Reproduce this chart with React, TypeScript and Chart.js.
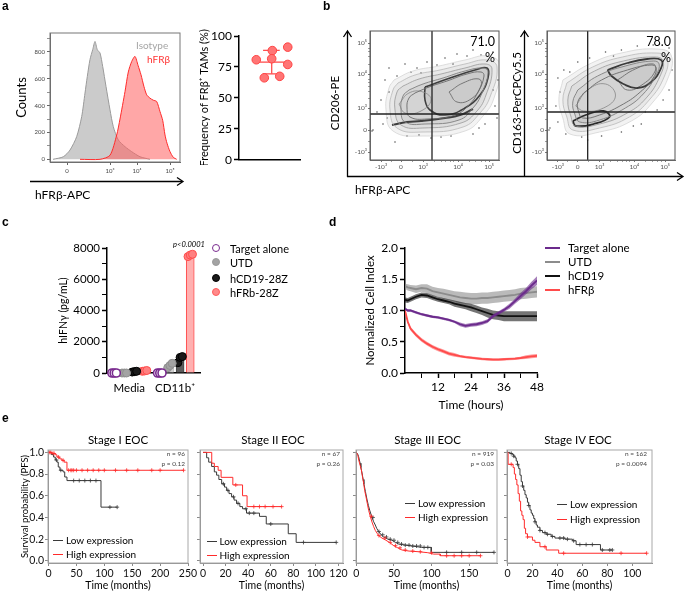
import React, { useEffect, useRef } from 'react';
import { Chart, registerables } from 'chart.js';

const FONT = 'Lato, "Liberation Sans", sans-serif';
const BOLD_FONT = '"Liberation Sans", Arial, sans-serif';

// ---------------- Panel a : histogram ----------------
const HIST_ISO_X = [3, 13.3, 20, 26.7, 31.7, 35, 37.3, 40, 42.7, 45, 47.3, 50, 52.7, 56, 60, 63.3, 68.3, 75, 81.7, 90, 100];
const HIST_ISO_Y = [0, 19, 69, 169, 318, 493, 616, 743, 816, 877, 816, 791, 691, 542, 368, 243, 144, 94, 57, 19, 0];
const HIST_FRB_X = [30, 50, 60, 66.7, 70, 75, 78.3, 81.7, 85, 88, 91, 94, 96.7, 100, 103.3, 106.7, 110, 112.7, 115, 117, 120, 123.3, 126.7];
const HIST_FRB_Y = [0, 0, 30, 181, 300, 504, 650, 728, 766, 700, 629, 540, 480, 455, 440, 430, 355, 290, 181, 120, 57, 15, 0];
const HIST_X_TICKS = [17, 60, 87, 120];
const HIST_X_LABELS = ['0', '10³', '10⁴', '10⁵'];
const HIST_Y_TICKS = [0, 200, 400, 600, 800];
const HIST_Y_MINOR = [100, 300, 500, 700, 900];

// ---------------- Panel a : FRβ+ TAM frequency ----------------
const FR_FREQ = [80.8, 88.2, 91.0, 81.6, 77.0, 66.2, 67.4];
const FR_JITTER = [0.28, 0.54, 0.79, 0.53, 0.79, 0.41, 0.66];
const FR_Y_TICKS = [0, 25, 50, 75, 100];
const FR_CENTER = 0.53;
const FR_MEAN_SPAN = [0.3, 0.78];
const FR_CAP_SPAN = [0.39, 0.66];

// ---------------- Panel b : flow contour plots ----------------
const B_X_TICKS = [-1, 0, 1.1, 2.85, 4.4];
const B_Y_TICKS = [-1.1, 0, 1.1, 2.8, 4.35];
const B_TICK_LABELS = ['-10³', '0', '10³', '10⁴', '10⁵'];
const B_X_MINOR = [-0.5, 0.55, 1.65, 2.0, 2.25, 2.45, 2.6, 3.4, 3.75, 4.0, 4.2];
const B_Y_MINOR = [-0.55, 0.55, 1.6, 1.95, 2.2, 2.4, 2.55, 3.3, 3.65, 3.9, 4.1];
const B1_GATE = [1.55, 0.8];
const B2_GATE = [0.5, 0.9];
const B1_PCT = '71.0';
const B2_PCT = '78.0';

const B1_HALO = [[-0.35, 2.5], [0.6, 2.95], [1.9, 3.2], [3.2, 3.5], [4.35, 3.7], [4.95, 3.25], [4.65, 1.6], [4.1, 0.7], [3.2, -0.05], [1.1, -0.3], [-0.4, -0.05], [-0.75, 1.0], [-0.6, 2.1]];
const B1_OUTER = [[-0.15, 2.35], [0.7, 2.75], [1.95, 3.0], [3.2, 3.3], [4.3, 3.5], [4.8, 3.15], [4.45, 1.65], [3.95, 0.85], [3.1, 0.15], [1.1, -0.1], [-0.2, 0.1], [-0.55, 1.0], [-0.4, 2.0]];
const B1_MID = [[0.1, 2.2], [0.9, 2.55], [2.0, 2.8], [3.2, 3.1], [4.2, 3.3], [4.55, 3.05], [4.25, 1.75], [3.8, 0.95], [3.0, 0.35], [1.1, 0.1], [0.0, 0.25], [-0.3, 1.0], [-0.2, 1.9]];
const B1_INNER = [[0.4, 2.0], [1.1, 2.3], [2.1, 2.6], [3.2, 2.95], [4.1, 3.1], [4.35, 2.9], [4.05, 1.85], [3.6, 1.1], [2.9, 0.5], [1.2, 0.3], [0.2, 0.4], [0.0, 1.0], [0.1, 1.7]];
const B1_RING5 = [[0.7, 1.85], [1.4, 2.15], [2.3, 2.45], [3.3, 2.8], [4.0, 2.9], [4.15, 2.7], [3.85, 1.9], [3.4, 1.25], [2.7, 0.75], [1.3, 0.55], [0.45, 0.65], [0.3, 1.1], [0.4, 1.6]];
const B1_LOBE = [[-0.1, 1.3], [0.4, 1.85], [1.1, 1.9], [1.5, 1.5], [1.0, 0.95], [0.2, 0.85]];
const B1_DARK = [[1.2, 2.15], [2.45, 2.6], [3.7, 3.0], [4.3, 3.1], [4.35, 2.6], [3.95, 1.75], [3.2, 1.1], [2.2, 0.75], [1.45, 1.0], [1.2, 1.5]];
const B1_CORE = [[2.4, 1.9], [3.1, 2.35], [3.9, 2.55], [4.0, 2.2], [3.5, 1.55], [2.8, 1.4]];
const B1_BAND = [[-0.45, 0.25], [0.3, 0.4], [1.0, 0.45], [2.2, 0.6], [2.95, 0.75], [3.6, 1.05]];
const B1_DOTS = [[-0.8, 2.5], [-0.6, 3.1], [0.2, 3.3], [0.5, 2.9], [1.3, 3.4], [2.2, 3.6], [2.8, 3.8], [3.6, 4.0], [4.6, 3.9], [4.85, 2.5], [4.7, 1.2], [4.2, 0.3], [3.6, -0.2], [2.5, -0.3], [1.5, -0.4], [0.3, -0.3], [-0.9, 0.3], [-1.0, 1.5], [-1.4, 0.0], [-0.3, -0.6], [0.8, 3.1], [3.3, 3.7], [4.8, 0.6], [-0.7, 0.6], [-0.2, 2.7], [1.8, 3.25], [4.0, 3.75], [4.6, 2.0], [3.9, 0.1], [2.0, -0.35], [0.9, -0.25], [-0.6, 1.9], [-1.2, 0.9], [-1.45, -0.05], [1.0, 2.85], [2.6, 3.3]];

const B2_HALO = [[-0.75, 2.5], [0.7, 3.35], [2.2, 3.85], [3.95, 4.05], [4.7, 3.75], [4.55, 2.6], [3.75, 1.35], [2.7, 0.45], [1.1, -0.1], [-0.4, -0.2], [-0.75, 0.6], [-0.95, 1.5]];
const B2_OUTER = [[-0.55, 2.35], [0.75, 3.15], [2.25, 3.65], [3.95, 3.85], [4.5, 3.6], [4.35, 2.65], [3.6, 1.5], [2.6, 0.65], [1.1, 0.1], [-0.25, 0.0], [-0.55, 0.65], [-0.75, 1.5]];
const B2_MID = [[-0.3, 2.2], [0.85, 2.95], [2.3, 3.45], [3.9, 3.65], [4.3, 3.45], [4.15, 2.7], [3.45, 1.6], [2.5, 0.85], [1.1, 0.3], [-0.1, 0.2], [-0.35, 0.7], [-0.5, 1.5]];
const B2_INNER = [[0.0, 2.0], [1.0, 2.7], [2.4, 3.2], [3.8, 3.45], [4.1, 3.3], [3.95, 2.75], [3.3, 1.8], [2.4, 1.1], [1.1, 0.5], [0.1, 0.4], [-0.15, 0.8], [-0.25, 1.4]];
const B2_RING5 = [[0.3, 1.85], [1.2, 2.5], [2.5, 3.0], [3.7, 3.25], [3.95, 3.1], [3.8, 2.6], [3.15, 1.9], [2.3, 1.3], [1.1, 0.75], [0.25, 0.6], [0.05, 0.9], [0.0, 1.4]];
const B2_LOBE = [[-0.1, 1.2], [0.5, 2.0], [1.4, 2.3], [1.9, 1.7], [1.3, 1.1], [0.3, 0.95]];
const B2_DARK = [[1.5, 3.0], [2.5, 3.35], [3.5, 3.55], [4.2, 3.5], [4.2, 3.1], [3.7, 2.4], [3.0, 2.1], [2.3, 2.3], [1.7, 2.7]];
const B2_CORE = [[2.0, 2.5], [2.9, 3.05], [3.8, 3.3], [3.9, 2.95], [3.3, 2.3], [2.5, 2.0]];
const B2_BLOB = [[-0.25, 0.45], [0.4, 0.75], [1.3, 0.95], [1.6, 0.65], [0.8, 0.3], [-0.1, 0.2]];
const B2_DOTS = [[-1.0, 2.6], [-0.7, 3.0], [0.0, 3.4], [0.6, 3.6], [1.4, 3.9], [2.2, 4.0], [3.0, 4.2], [3.8, 4.25], [4.6, 4.1], [4.75, 3.0], [4.6, 2.0], [4.0, 1.0], [3.2, 0.3], [2.2, -0.1], [1.2, -0.3], [0.2, -0.35], [-0.6, -0.2], [-1.0, 0.4], [-1.1, 1.2], [-1.45, 0.0], [-1.4, 0.1], [-0.4, 2.9], [1.8, 3.7], [3.4, 0.9], [4.3, 1.5], [-0.9, 1.9], [0.5, -0.5], [2.8, 0.2]];

// ---------------- Panel c : IFNγ ----------------
const C_GROUPS = ['Media', 'CD11b⁺'];
const C_GROUP_POS = [1.5, 6.0];
const C_MEDIA_X = [0, 1, 2, 3];
const C_CD11B_X = [4.5, 5.5, 6.5, 7.5];
const C_JITTER = [-0.22, 0, 0.22];
const C_SERIES = ['Target alone', 'UTD', 'hCD19-28Z', 'hFRb-28Z'];
const TARGET_MEDIA = [0, 0, 0];
const TARGET_CD11B = [0, 0, 0];
const UTD_MEDIA = [0, 0, 0];
const UTD_CD11B = [340, 480, 620];
const CD19_MEDIA = [60, 90, 110];
const CD19_CD11B = [660, 1000, 1050];
const FRB_MEDIA = [110, 130, 160];
const FRB_CD11B = [7450, 7550, 7600];
const C_Y_TICKS = [0, 2000, 4000, 6000, 8000];
const C_Y_MINOR = [1000, 3000, 5000, 7000];

// ---------------- Panel d : cell index ----------------
const TIME_H = [0, 1, 2, 4, 6, 8, 10, 12, 14, 16, 18, 20, 22, 24, 26, 28, 30, 32, 34, 36, 38, 40, 42, 44, 46, 48];
const D_TARGET = [1.03, 1.0, 1.0, 0.97, 0.94, 0.92, 0.9, 0.89, 0.87, 0.85, 0.82, 0.78, 0.755, 0.77, 0.78, 0.8, 0.83, 0.91, 0.96, 1.01, 1.07, 1.15, 1.23, 1.31, 1.4, 1.48];
const D_TARGET_ERR = [0.02, 0.02, 0.02, 0.02, 0.02, 0.02, 0.02, 0.02, 0.02, 0.02, 0.02, 0.03, 0.03, 0.03, 0.03, 0.03, 0.03, 0.03, 0.03, 0.03, 0.04, 0.04, 0.05, 0.05, 0.06, 0.07];
const D_UTD = [1.39, 1.37, 1.36, 1.34, 1.36, 1.35, 1.31, 1.29, 1.27, 1.25, 1.23, 1.21, 1.2, 1.19, 1.19, 1.2, 1.2, 1.21, 1.22, 1.23, 1.24, 1.25, 1.27, 1.28, 1.29, 1.3];
const D_UTD_ERR = [0.04, 0.05, 0.05, 0.06, 0.06, 0.07, 0.07, 0.07, 0.08, 0.08, 0.08, 0.09, 0.09, 0.09, 0.09, 0.09, 0.09, 0.09, 0.09, 0.09, 0.09, 0.09, 0.09, 0.09, 0.09, 0.09];
const D_CD19 = [1.17, 1.16, 1.18, 1.22, 1.25, 1.24, 1.21, 1.18, 1.16, 1.14, 1.11, 1.09, 1.07, 1.05, 1.02, 0.99, 0.96, 0.93, 0.92, 0.91, 0.91, 0.91, 0.91, 0.91, 0.91, 0.91];
const D_CD19_ERR = [0.04, 0.04, 0.04, 0.04, 0.04, 0.04, 0.04, 0.04, 0.04, 0.04, 0.05, 0.05, 0.05, 0.06, 0.06, 0.06, 0.07, 0.07, 0.07, 0.08, 0.08, 0.08, 0.08, 0.08, 0.08, 0.08];
const D_FRB = [1.0, 0.82, 0.71, 0.61, 0.53, 0.47, 0.42, 0.38, 0.345, 0.31, 0.29, 0.27, 0.255, 0.245, 0.235, 0.225, 0.22, 0.215, 0.215, 0.22, 0.225, 0.23, 0.24, 0.255, 0.265, 0.275];
const D_FRB_ERR = [0.02, 0.03, 0.03, 0.03, 0.03, 0.03, 0.03, 0.03, 0.03, 0.03, 0.03, 0.02, 0.02, 0.02, 0.02, 0.02, 0.02, 0.02, 0.02, 0.02, 0.02, 0.02, 0.02, 0.03, 0.03, 0.03];
const D_SERIES = ['Target alone', 'UTD', 'hCD19', 'hFRβ'];
const D_X_TICKS = [12, 24, 36, 48];
const D_X_MINOR = [6, 18, 30, 42];
const D_Y_TICKS = [0, 0.5, 1, 1.5, 2];
const D_Y_MINOR = [0.25, 0.75, 1.25, 1.75];

// ---------------- Panel e : Kaplan–Meier ----------------
const KM_Y_TICKS = [0, 0.2, 0.4, 0.6, 0.8, 1.0];
const S1_LOW_T = [0, 5, 9, 12, 15, 17.4, 20.4, 26, 29, 33, 94, 123];
const S1_LOW_S = [1, 0.98, 0.957, 0.93, 0.91, 0.865, 0.835, 0.82, 0.773, 0.74, 0.495, 0.495];
const S1_HIGH_T = [0, 6, 12, 15, 20, 24, 28, 33, 242];
const S1_HIGH_S = [1, 0.99, 0.978, 0.957, 0.94, 0.927, 0.91, 0.835, 0.835];
const S1_LOW_C = [14, 22, 45, 55, 65, 75, 85, 110, 123];
const S1_HIGH_C = [2, 4, 8, 10, 18, 26, 36, 40, 42, 45, 50, 60, 70, 80, 90, 100, 120, 140, 160, 185, 200, 242];

const S2_LOW_T = [0, 3.2, 5, 7.6, 10, 12, 14, 16.5, 19, 20.9, 23, 25.3, 27.5, 29.7, 32.6, 35, 38.5, 50, 56, 75.5, 82.5, 118];
const S2_LOW_S = [1, 0.95, 0.91, 0.87, 0.82, 0.79, 0.75, 0.71, 0.68, 0.65, 0.62, 0.59, 0.56, 0.53, 0.5, 0.48, 0.44, 0.41, 0.34, 0.25, 0.17, 0.17];
const S2_HIGH_T = [0, 7.7, 10, 13.4, 16, 26.4, 35, 39, 69.6];
const S2_HIGH_S = [1, 0.9, 0.87, 0.835, 0.77, 0.7, 0.6, 0.5, 0.5];
const S2_LOW_C = [18, 22, 27, 31, 38, 41, 45, 60, 89, 118];
const S2_HIGH_C = [29, 45, 50, 55, 62, 69.6];

const S3_LOW_T = [0, 2, 3, 4, 5, 6, 7.5, 9, 10, 12, 14, 16, 18, 20.8, 23, 25.2, 27, 29.6, 33, 36.3, 42, 47.3, 52, 56.2, 65, 74, 87, 99.6, 99.6, 183];
const S3_LOW_S = [1, 0.98, 0.96, 0.93, 0.9, 0.86, 0.81, 0.75, 0.71, 0.64, 0.57, 0.51, 0.46, 0.4, 0.36, 0.33, 0.3, 0.27, 0.24, 0.22, 0.2, 0.19, 0.17, 0.155, 0.145, 0.137, 0.124, 0.124, 0.078, 0.078];
const S3_HIGH_T = [0, 2, 3.1, 5, 6.6, 8, 9.7, 11, 12.8, 14.5, 16.3, 18.5, 20.8, 23, 25.2, 27.5, 29.6, 34, 38.5, 44, 49.6, 55, 60.6, 70, 82.8, 95, 102.7, 111.5, 111.5, 165];
const S3_HIGH_S = [1, 0.97, 0.93, 0.88, 0.84, 0.78, 0.715, 0.65, 0.59, 0.53, 0.466, 0.41, 0.357, 0.315, 0.28, 0.255, 0.233, 0.21, 0.193, 0.17, 0.14, 0.12, 0.1, 0.09, 0.084, 0.075, 0.062, 0.062, 0.047, 0.047];
const S3_LOW_C = [22, 30, 35, 40, 45, 50, 55, 60, 65, 70, 75, 80, 85, 90, 95, 120, 140, 160, 183];
const S3_HIGH_C = [20, 30, 38, 45, 52, 58, 65, 75, 85, 100, 120, 130, 140, 150, 165];

const S4_LOW_T = [0, 2, 4, 5, 6, 7, 8, 9, 10, 11, 12, 13, 14, 15, 16, 17, 18, 19, 20, 21, 22, 23, 24, 26, 28, 31, 35, 38, 46, 52, 55, 74.5, 84];
const S4_LOW_S = [1, 0.99, 0.98, 0.965, 0.95, 0.92, 0.89, 0.85, 0.79, 0.73, 0.69, 0.65, 0.61, 0.58, 0.54, 0.51, 0.47, 0.44, 0.42, 0.39, 0.36, 0.33, 0.31, 0.28, 0.26, 0.245, 0.225, 0.21, 0.2, 0.185, 0.15, 0.1, 0.1];
const S4_HIGH_T = [0, 0.5, 4.5, 5.5, 6.5, 7.5, 8.5, 9.5, 10.5, 11.5, 12.5, 13.5, 14.5, 16, 20, 22, 26, 31, 41, 111.5];
const S4_HIGH_S = [1, 0.89, 0.86, 0.8, 0.75, 0.7, 0.62, 0.55, 0.46, 0.42, 0.38, 0.3, 0.25, 0.22, 0.19, 0.17, 0.13, 0.1, 0.07, 0.07];
const S4_LOW_C = [3, 5, 8, 12, 17, 22, 26, 30, 32, 36, 42, 45, 48, 53, 58, 63, 68, 76, 82, 84];
const S4_HIGH_C = [3, 16, 30, 45, 91, 111.5];

// ---------------- helpers ----------------
const framePlugin = {
  id: 'frame',
  afterDatasetsDraw(chart: any, _a: any, opts: any) {
    if (!opts || !opts.color) return;
    const { ctx, chartArea: a } = chart;
    ctx.save();
    ctx.strokeStyle = opts.color;
    ctx.lineWidth = opts.width ?? 1;
    ctx.strokeRect(a.left, a.top, a.right - a.left, a.bottom - a.top);
    ctx.restore();
  },
};
Chart.register(...registerables, framePlugin);
Chart.defaults.font.family = FONT;
Chart.defaults.color = '#000';

type Box = { l: number; t: number; r: number; b: number; yW: number; xH: number; pT: number; pR: number };

type AxisP = {
  horizontal: boolean; fit: number; min: number; max: number; ticks: number[]; labels?: string[]; minor?: number[];
  font?: number; color?: string; line?: string; lw?: number; tl?: number; pad?: number; title?: string; titleSize?: number;
  noTicks?: boolean; drawTicks?: boolean;
};

function mkAxis(p: AxisP) {
  const all = [...p.ticks, ...(p.minor || [])].sort((a, b) => a - b);
  const lw = p.lw ?? 1;
  return {
    type: 'linear',
    offset: false,
    min: p.min,
    max: p.max,
    afterBuildTicks: (s: any) => { s.ticks = all.map((v) => ({ value: v })); },
    afterFit: (s: any) => {
      if (p.horizontal) s.height = p.fit; else s.width = p.fit;
      s.paddingLeft = 0; s.paddingRight = 0; s.paddingTop = 0; s.paddingBottom = 0;
    },
    ticks: {
      display: !p.noTicks,
      autoSkip: false, maxRotation: 0, minRotation: 0,
      padding: p.pad ?? 2,
      color: p.color ?? '#000',
      font: { size: p.font ?? 10, family: FONT },
      callback: (v: number) => { const i = p.ticks.indexOf(v); return i >= 0 && p.labels ? p.labels[i] : ''; },
    },
    grid: {
      display: true, offset: false, drawOnChartArea: false, drawTicks: p.drawTicks ?? !p.noTicks, tickLength: p.tl ?? 3,
      tickColor: p.line ?? '#000',
      tickWidth: (c: any) => (c.tick && p.ticks.includes(c.tick.value) ? lw : lw * 0.7),
    },
    border: { display: true, color: p.line ?? '#000', width: lw },
    title: p.title
      ? { display: true, text: p.title, padding: 0, color: '#000', font: { size: p.titleSize ?? 11, family: FONT } }
      : { display: false },
  };
}

function baseOpts(box: Box, x: any, y: any, plugins: any = {}) {
  return {
    responsive: false, animation: false, events: [], devicePixelRatio: 1,
    layout: { padding: { top: box.pT, right: box.pR, left: 0, bottom: 0 } },
    plugins: { legend: { display: false }, tooltip: { enabled: false }, ...plugins },
    scales: { x, y },
  };
}

function ChartBox({ box, make }: { box: Box; make: () => any }) {
  const ref = useRef<HTMLCanvasElement | null>(null);
  const w = Math.round(box.r - box.l + box.yW + box.pR);
  const h = Math.round(box.b - box.t + box.pT + box.xH);
  useEffect(() => {
    if (!ref.current) return;
    const chart = new Chart(ref.current, make());
    return () => chart.destroy();
  }, []);
  return (
    <canvas ref={ref} width={w} height={h}
      style={{ position: 'absolute', left: box.l - box.yW, top: box.t - box.pT, width: w, height: h }} />
  );
}

const pts = (xs: number[], ys: number[]) => xs.map((x, i) => ({ x, y: ys[i] }));
const pairs = (arr: number[][]) => arr.map(([x, y]) => ({ x, y }));
const closed = (arr: number[][]) => pairs([...arr, arr[0]]);
const mean = (a: number[]) => a.reduce((s, v) => s + v, 0) / a.length;
const stepAt = (T: number[], S: number[], t: number) => {
  let v = S[0];
  for (let i = 0; i < T.length; i++) if (T[i] <= t) v = S[i];
  return v;
};

// ---------------- chart builders ----------------
const HIST_BOX: Box = { l: 50, t: 33, r: 180, b: 162, yW: 36, xH: 20, pT: 4, pR: 8 };
function makeHist() {
  return {
    type: 'scatter',
    data: {
      datasets: [
        { data: pts(HIST_FRB_X, HIST_FRB_Y), showLine: true, fill: 'origin', backgroundColor: 'rgba(255,95,95,0.55)', borderColor: '#ff2a2a', borderWidth: 1, pointRadius: 0, tension: 0.25, order: 0 },
        { data: pts(HIST_ISO_X, HIST_ISO_Y), showLine: true, fill: 'origin', backgroundColor: 'rgba(190,190,190,0.8)', borderColor: '#9a9a9a', borderWidth: 1, pointRadius: 0, tension: 0.25, order: 1 },
      ],
    },
    options: baseOpts(
      HIST_BOX,
      mkAxis({ horizontal: true, fit: HIST_BOX.xH, min: 0, max: 130, ticks: HIST_X_TICKS, labels: HIST_X_LABELS, font: 6, color: '#444', line: '#666', tl: 3, pad: 2 }),
      mkAxis({ horizontal: false, fit: HIST_BOX.yW, min: -20, max: 940, ticks: HIST_Y_TICKS, labels: HIST_Y_TICKS.map(String), minor: HIST_Y_MINOR, font: 6, color: '#444', line: '#666', tl: 3, pad: 2, title: 'Counts', titleSize: 13 }),
      { frame: { color: '#777' } },
    ),
  };
}

const DOT_BOX: Box = { l: 239, t: 36, r: 302, b: 161, yW: 41, xH: 4, pT: 8, pR: 4 };
function makeDots() {
  const m = mean(FR_FREQ);
  const sd = Math.sqrt(FR_FREQ.reduce((s, v) => s + (v - m) ** 2, 0) / (FR_FREQ.length - 1));
  const col = '#ff4d4d';
  const ln = (d: any[]) => ({ data: d, showLine: true, pointRadius: 0, borderColor: col, borderWidth: 1.3, order: 1, clip: false });
  return {
    type: 'scatter',
    data: {
      datasets: [
        { data: pts(FR_JITTER, FR_FREQ), pointRadius: 4.3, backgroundColor: '#ff7575', borderColor: '#ff4444', borderWidth: 1, order: 0, clip: false },
        ln([{ x: FR_MEAN_SPAN[0], y: m }, { x: FR_MEAN_SPAN[1], y: m }]),
        ln([{ x: FR_CENTER, y: m - sd }, { x: FR_CENTER, y: m + sd }]),
        ln([{ x: FR_CAP_SPAN[0], y: m - sd }, { x: FR_CAP_SPAN[1], y: m - sd }]),
        ln([{ x: FR_CAP_SPAN[0], y: m + sd }, { x: FR_CAP_SPAN[1], y: m + sd }]),
      ],
    },
    options: baseOpts(
      DOT_BOX,
      mkAxis({ horizontal: true, fit: DOT_BOX.xH, min: 0, max: 1, ticks: [], noTicks: true, lw: 1.5 }),
      mkAxis({ horizontal: false, fit: DOT_BOX.yW, min: 0, max: 100, ticks: FR_Y_TICKS, labels: FR_Y_TICKS.map(String), font: 12, lw: 1.5, tl: 5, pad: 2, title: 'Frequency of FRβ⁺ TAMs (%)', titleSize: 11 }),
    ),
  };
}

const B_X_MIN = -1.55, B_X_MAX = 4.9, B_Y_MIN = -1.5, B_Y_MAX = 4.95;
const B1_BOX: Box = { l: 370, t: 31, r: 499, b: 160, yW: 18, xH: 14, pT: 6, pR: 6 };
const B2_BOX: Box = { l: 547, t: 31, r: 675, b: 160, yW: 18, xH: 14, pT: 6, pR: 6 };
type Ring = { d: number[][]; c: string; w: number; open?: boolean; shade?: boolean };
function makeContour(box: Box, gate: number[], rings: Ring[], dots: number[][]) {
  const ds: any[] = rings.map((r) => ({
    data: r.open ? pairs(r.d) : closed(r.d), showLine: true, pointRadius: 0, borderColor: r.c, borderWidth: r.w, tension: 0.45, order: 2,
    fill: r.shade ? 'shape' : false, backgroundColor: 'rgba(90,90,90,0.07)',
  }));
  ds.push({ data: pairs(dots), pointRadius: 0.8, backgroundColor: '#555', borderWidth: 0, order: 3 });
  ds.push({ data: [{ x: gate[0], y: B_Y_MIN }, { x: gate[0], y: B_Y_MAX }], showLine: true, pointRadius: 0, borderColor: '#222', borderWidth: 1.3, order: 0 });
  ds.push({ data: [{ x: B_X_MIN, y: gate[1] }, { x: B_X_MAX, y: gate[1] }], showLine: true, pointRadius: 0, borderColor: '#222', borderWidth: 1.3, order: 0 });
  return {
    type: 'scatter',
    data: { datasets: ds },
    options: baseOpts(
      box,
      mkAxis({ horizontal: true, fit: box.xH, min: B_X_MIN, max: B_X_MAX, ticks: B_X_TICKS, labels: B_TICK_LABELS, minor: B_X_MINOR, font: 6.5, color: '#555', line: '#777', tl: 2, pad: 1 }),
      mkAxis({ horizontal: false, fit: box.yW, min: B_Y_MIN, max: B_Y_MAX, ticks: B_Y_TICKS, labels: B_TICK_LABELS, minor: B_Y_MINOR, font: 6.5, color: '#555', line: '#777', tl: 2, pad: 1 }),
      { frame: { color: '#555' } },
    ),
  };
}
const makeB1 = () => makeContour(B1_BOX, B1_GATE, [
  { d: B1_HALO, c: '#d6d6d6', w: 0.8, shade: true },
  { d: B1_OUTER, c: '#c0c0c0', w: 0.8, shade: true },
  { d: B1_MID, c: '#a5a5a5', w: 0.8, shade: true },
  { d: B1_INNER, c: '#8a8a8a', w: 0.9, shade: true },
  { d: B1_RING5, c: '#727272', w: 0.9 },
  { d: B1_LOBE, c: '#999', w: 0.8 },
  { d: B1_DARK, c: '#3a3a3a', w: 1.6, shade: true },
  { d: B1_CORE, c: '#777', w: 0.9 },
  { d: B1_BAND, c: '#3a3a3a', w: 2, open: true },
], B1_DOTS);
const makeB2 = () => makeContour(B2_BOX, B2_GATE, [
  { d: B2_HALO, c: '#d6d6d6', w: 0.8, shade: true },
  { d: B2_OUTER, c: '#c0c0c0', w: 0.8, shade: true },
  { d: B2_MID, c: '#a5a5a5', w: 0.8, shade: true },
  { d: B2_INNER, c: '#8a8a8a', w: 0.9, shade: true },
  { d: B2_RING5, c: '#727272', w: 0.9 },
  { d: B2_LOBE, c: '#999', w: 0.8 },
  { d: B2_DARK, c: '#333', w: 1.8, shade: true },
  { d: B2_CORE, c: '#777', w: 0.9 },
  { d: B2_BLOB, c: '#222', w: 1.8, shade: true },
], B2_DOTS);

const C_BOX: Box = { l: 107, t: 248, r: 202, b: 373, yW: 50, xH: 22, pT: 8, pR: 4 };
function makeBars() {
  const media = [TARGET_MEDIA, UTD_MEDIA, CD19_MEDIA, FRB_MEDIA];
  const cd11b = [TARGET_CD11B, UTD_CD11B, CD19_CD11B, FRB_CD11B];
  const barFill = ['rgba(0,0,0,0)', '#cfcfcf', '#5c5c5c', '#ffb0b0'];
  const barLine = ['rgba(0,0,0,0)', '#bdbdbd', '#444', '#ff4d4d'];
  const ptFill = ['#ffffff', '#a3a3a3', '#1a1a1a', '#ff8080'];
  const ptLine = ['#7a2b8f', '#8f8f8f', '#000', '#ff4d4d'];
  const bars: any[] = [], bg: string[] = [], bc: string[] = [];
  C_SERIES.forEach((_, i) => {
    bars.push({ x: C_MEDIA_X[i], y: mean(media[i]) }); bg.push(barFill[i]); bc.push(barLine[i]);
    bars.push({ x: C_CD11B_X[i], y: mean(cd11b[i]) }); bg.push(barFill[i]); bc.push(barLine[i]);
  });
  const ds: any[] = C_SERIES.map((name, i) => ({
    type: 'scatter', label: name,
    data: [
      ...media[i].map((y, k) => ({ x: C_MEDIA_X[i] + C_JITTER[k], y })),
      ...cd11b[i].map((y, k) => ({ x: C_CD11B_X[i] + C_JITTER[k], y })),
    ],
    pointRadius: 4, backgroundColor: ptFill[i], borderColor: ptLine[i], borderWidth: i === 0 ? 1.6 : 1, order: 1, clip: false,
  }));
  ds.push({ type: 'bar', data: bars, backgroundColor: bg, borderColor: bc, borderWidth: 1, barThickness: 8, order: 5 });
  return {
    type: 'bar',
    data: { datasets: ds },
    options: baseOpts(
      C_BOX,
      mkAxis({ horizontal: true, fit: C_BOX.xH, min: -0.7, max: 8.5, ticks: C_GROUP_POS, labels: C_GROUPS, font: 11.5, lw: 1.5, drawTicks: false, tl: 0, pad: 8 }),
      mkAxis({ horizontal: false, fit: C_BOX.yW, min: 0, max: 8000, ticks: C_Y_TICKS, labels: C_Y_TICKS.map(String), minor: C_Y_MINOR, font: 11.5, lw: 1.5, tl: 5, pad: 2, title: 'hIFNγ (pg/mL)', titleSize: 10.5 }),
    ),
  };
}

const D_BOX: Box = { l: 405, t: 248, r: 537, b: 373, yW: 42, xH: 39, pT: 8, pR: 8 };
function makeLines() {
  const series = [
    { v: D_TARGET, e: D_TARGET_ERR, c: '#6b2a8c', band: 'rgba(107,42,140,0.6)', o: 0 },
    { v: D_FRB, e: D_FRB_ERR, c: '#ff4b4b', band: 'rgba(255,75,75,0.55)', o: 3 },
    { v: D_CD19, e: D_CD19_ERR, c: '#111111', band: 'rgba(25,25,25,0.6)', o: 6 },
    { v: D_UTD, e: D_UTD_ERR, c: '#8c8c8c', band: 'rgba(140,140,140,0.6)', o: 9 },
  ];
  const ds: any[] = [];
  series.forEach((s) => {
    ds.push({ data: pts(TIME_H, s.v), borderColor: s.c, borderWidth: 1.8, pointRadius: 0, fill: false, order: s.o });
    ds.push({ data: pts(TIME_H, s.v.map((v, i) => v + s.e[i])), borderWidth: 0, borderColor: 'rgba(0,0,0,0)', pointRadius: 0, fill: false, order: s.o + 1 });
    ds.push({ data: pts(TIME_H, s.v.map((v, i) => v - s.e[i])), borderWidth: 0, borderColor: 'rgba(0,0,0,0)', pointRadius: 0, fill: '-1', backgroundColor: s.band, order: s.o + 2 });
  });
  return {
    type: 'line',
    data: { datasets: ds },
    options: baseOpts(
      D_BOX,
      mkAxis({ horizontal: true, fit: D_BOX.xH, min: 0, max: 48, ticks: D_X_TICKS, labels: D_X_TICKS.map(String), minor: D_X_MINOR, font: 12, lw: 1.5, tl: 5, pad: 2, title: 'Time (hours)', titleSize: 12 }),
      mkAxis({ horizontal: false, fit: D_BOX.yW, min: 0, max: 2, ticks: D_Y_TICKS, labels: D_Y_TICKS.map((v) => v.toFixed(1)), minor: D_Y_MINOR, font: 12, lw: 1.5, tl: 5, pad: 2, title: 'Normalized Cell Index', titleSize: 11.5 }),
    ),
  };
}

const KM_Y_MIN = -0.02, KM_Y_MAX = 1.022;
type KM = {
  box: Box; xmin: number; xmax: number; xticks: number[]; stepped: boolean; yLabels: boolean;
  lowT: number[]; lowS: number[]; highT: number[]; highS: number[]; lowC: number[]; highC: number[];
};
function makeKM(k: KM) {
  const low = '#3a3a3a', high = '#ff2b2b';
  return {
    type: 'scatter',
    data: {
      datasets: [
        { data: pts(k.highT, k.highS), showLine: true, stepped: k.stepped, pointRadius: 0, borderColor: high, borderWidth: 1, order: 1 },
        { data: pts(k.lowT, k.lowS), showLine: true, stepped: k.stepped, pointRadius: 0, borderColor: low, borderWidth: 1, order: 2 },
        { data: k.highC.map((t) => ({ x: t, y: stepAt(k.highT, k.highS, t) })), pointStyle: 'cross', pointRadius: 2, borderColor: high, borderWidth: 0.8, order: 0 },
        { data: k.lowC.map((t) => ({ x: t, y: stepAt(k.lowT, k.lowS, t) })), pointStyle: 'cross', pointRadius: 2, borderColor: low, borderWidth: 0.8, order: 0 },
      ],
    },
    options: baseOpts(
      k.box,
      mkAxis({ horizontal: true, fit: k.box.xH, min: k.xmin, max: k.xmax, ticks: k.xticks, labels: k.xticks.map(String), font: 10.5, color: '#111', line: '#8a8a8a', tl: 3, pad: 1, title: 'Time (months)', titleSize: 10.5 }),
      mkAxis({
        horizontal: false, fit: k.box.yW, min: KM_Y_MIN, max: KM_Y_MAX, ticks: KM_Y_TICKS,
        labels: k.yLabels ? KM_Y_TICKS.map((v) => v.toFixed(1)) : undefined, font: 10.5, color: '#111', line: '#8a8a8a', tl: 3, pad: 1,
        title: k.yLabels ? 'Survival probability (PFS)' : undefined, titleSize: 9.5,
      }),
      { frame: { color: '#a8a8a8' } },
    ),
  };
}
const E1_BOX: Box = { l: 48, t: 450, r: 188, b: 563, yW: 29, xH: 29, pT: 6, pR: 10 };
const E2_BOX: Box = { l: 200, t: 450, r: 343, b: 563, yW: 5, xH: 29, pT: 6, pR: 10 };
const E3_BOX: Box = { l: 356, t: 450, r: 497, b: 563, yW: 5, xH: 29, pT: 6, pR: 10 };
const E4_BOX: Box = { l: 507, t: 450, r: 652, b: 563, yW: 5, xH: 29, pT: 6, pR: 10 };
const makeE1 = () => makeKM({ box: E1_BOX, xmin: -1, xmax: 250, xticks: [0, 50, 100, 150, 200, 250], stepped: true, yLabels: true, lowT: S1_LOW_T, lowS: S1_LOW_S, highT: S1_HIGH_T, highS: S1_HIGH_S, lowC: S1_LOW_C, highC: S1_HIGH_C });
const makeE2 = () => makeKM({ box: E2_BOX, xmin: -2.7, xmax: 124, xticks: [0, 20, 40, 60, 80, 100, 120], stepped: true, yLabels: false, lowT: S2_LOW_T, lowS: S2_LOW_S, highT: S2_HIGH_T, highS: S2_HIGH_S, lowC: S2_LOW_C, highC: S2_HIGH_C });
const makeE3 = () => makeKM({ box: E3_BOX, xmin: -0.5, xmax: 187, xticks: [0, 50, 100, 150], stepped: false, yLabels: false, lowT: S3_LOW_T, lowS: S3_LOW_S, highT: S3_HIGH_T, highS: S3_HIGH_S, lowC: S3_LOW_C, highC: S3_HIGH_C });
const makeE4 = () => makeKM({ box: E4_BOX, xmin: -0.4, xmax: 115.8, xticks: [0, 20, 40, 60, 80, 100], stepped: true, yLabels: false, lowT: S4_LOW_T, lowS: S4_LOW_S, highT: S4_HIGH_T, highS: S4_HIGH_S, lowC: S4_LOW_C, highC: S4_HIGH_C });

// ---------------- text helpers ----------------
function T(props: { x: number; y: number; s: number; c?: string; a?: 'l' | 'c' | 'r'; rot?: boolean; b?: boolean; i?: boolean; f?: string; children: any }) {
  const { x, y, s, c = '#000', a = 'l', rot = false, b = false, i = false, f = FONT } = props;
  const tx = rot || a === 'c' ? '-50%' : a === 'r' ? '-100%' : '0';
  return (
    <div style={{
      position: 'absolute', left: x, top: y, transform: `translate(${tx},-50%)${rot ? ' rotate(-90deg)' : ''}`,
      fontSize: s, color: c, fontWeight: b ? 700 : 400, fontStyle: i ? 'italic' : 'normal', fontFamily: f,
      whiteSpace: 'nowrap', lineHeight: 1,
    }}>{props.children}</div>
  );
}

function Swatch({ x, y, color, fill, r = 4.2 }: { x: number; y: number; color: string; fill: string; r?: number }) {
  return <div style={{ position: 'absolute', left: x - r, top: y - r, width: 2 * r, height: 2 * r, borderRadius: '50%', boxSizing: 'border-box', border: `1.5px solid ${color}`, background: fill }} />;
}
function LineSw({ x1, x2, y, color, w = 2 }: { x1: number; x2: number; y: number; color: string; w?: number }) {
  return <div style={{ position: 'absolute', left: x1, top: y - w / 2, width: x2 - x1, height: w, background: color }} />;
}

export default function App() {
  const cLegend = [
    { c: '#7a2b8f', f: '#ffffff' },
    { c: '#9a9a9a', f: '#a3a3a3' },
    { c: '#000', f: '#1a1a1a' },
    { c: '#ff5c5c', f: '#ff8a8a' },
  ];
  const cY = [247.7, 262.3, 277.7, 292.3];
  const dCol = ['#6b2a8c', '#8c8c8c', '#111', '#ff4b4b'];
  const dY = [247.7, 261.7, 276, 290];
  const eLeg = [
    { lx: 53, tx: 66, y1: 540, y2: 554 },
    { lx: 206.5, tx: 219.5, y1: 541, y2: 555 },
    { lx: 405, tx: 418, y1: 503.3, y2: 517.3 },
    { lx: 557, tx: 570, y1: 504.3, y2: 519 },
  ];
  const eTitles = [
    { x: 118, t: 'Stage I EOC', n: 'n = 96', p: 'p = 0.12', nx: 185 },
    { x: 273, t: 'Stage II EOC', n: 'n = 67', p: 'p = 0.26', nx: 340 },
    { x: 427.5, t: 'Stage III EOC', n: 'n = 919', p: 'p = 0.03', nx: 494 },
    { x: 578, t: 'Stage IV EOC', n: 'n = 162', p: 'p = 0.0094', nx: 647 },
  ];
  return (
    <div style={{ position: 'fixed', left: 0, top: 0, width: 685, height: 592, background: '#fff', overflow: 'hidden', fontFamily: FONT }}>
      <ChartBox box={HIST_BOX} make={makeHist} />
      <ChartBox box={DOT_BOX} make={makeDots} />
      <ChartBox box={B1_BOX} make={makeB1} />
      <ChartBox box={B2_BOX} make={makeB2} />
      <ChartBox box={C_BOX} make={makeBars} />
      <ChartBox box={D_BOX} make={makeLines} />
      <ChartBox box={E1_BOX} make={makeE1} />
      <ChartBox box={E2_BOX} make={makeE2} />
      <ChartBox box={E3_BOX} make={makeE3} />
      <ChartBox box={E4_BOX} make={makeE4} />

      <svg width={685} height={592} style={{ position: 'absolute', left: 0, top: 0, pointerEvents: 'none' }}>
        <g stroke="#000" strokeWidth={1.3} fill="none">
          <line x1={30} y1={181.5} x2={182} y2={181.5} />
          <polyline points="177,177.5 183,181.5 177,185.5" />
          <line x1={347.5} y1={177} x2={347.5} y2={32} />
          <polyline points="343.5,37 347.5,31 351.5,37" />
          <line x1={347} y1={176.5} x2={682} y2={176.5} />
          <polyline points="677,172.5 683,176.5 677,180.5" />
          <line x1={524.5} y1={177} x2={524.5} y2={32} />
          <polyline points="520.5,37 524.5,31 528.5,37" />
        </g>
      </svg>

      {/* panel letters */}
      <T x={2} y={6} s={12} b f={BOLD_FONT}>a</T>
      <T x={323} y={6} s={12} b f={BOLD_FONT}>b</T>
      <T x={2} y={222} s={12} b f={BOLD_FONT}>c</T>
      <T x={329} y={222} s={12} b f={BOLD_FONT}>d</T>
      <T x={2} y={418} s={12} b f={BOLD_FONT}>e</T>

      {/* panel a */}
      <T x={136} y={44.5} s={10} c="#a6a6a6">Isotype</T>
      <T x={147} y={59} s={10} c="#ff3333">hFRβ</T>
      <T x={35} y={195} s={12}>hFRβ-APC</T>

      {/* panel b */}
      <T x={335} y={103} s={11.5} rot>CD206-PE</T>
      <T x={517} y={103} s={11.5} rot>CD163-PerCPCy5.5</T>
      <T x={355} y={190} s={12}>hFRβ-APC</T>
      <T x={495} y={42} s={12.5} a="r">{B1_PCT}</T>
      <T x={495} y={58} s={12.5} a="r">%</T>
      <T x={671} y={42} s={12.5} a="r">{B2_PCT}</T>
      <T x={671} y={58} s={12.5} a="r">%</T>

      {/* panel c */}
      <T x={189} y={244.5} s={7.5} a="c" i>p&lt;0.0001</T>
      {C_SERIES.map((name, i) => (
        <React.Fragment key={name}>
          <Swatch x={216} y={cY[i]} color={cLegend[i].c} fill={cLegend[i].f} />
          <T x={230} y={cY[i]} s={11}>{name}</T>
        </React.Fragment>
      ))}

      {/* panel d */}
      {D_SERIES.map((name, i) => (
        <React.Fragment key={name}>
          <LineSw x1={545} x2={560} y={dY[i]} color={dCol[i]} />
          <T x={568} y={dY[i]} s={11.5}>{name}</T>
        </React.Fragment>
      ))}

      {/* panel e */}
      {eTitles.map((e) => (
        <React.Fragment key={e.t}>
          <T x={e.x} y={440} s={11.5} a="c">{e.t}</T>
          <T x={e.nx} y={454} s={6.5} a="r" c="#444">{e.n}</T>
          <T x={e.nx} y={464} s={6.5} a="r" c="#444">{e.p}</T>
        </React.Fragment>
      ))}
      {eLeg.map((l, i) => (
        <React.Fragment key={i}>
          <LineSw x1={l.lx} x2={l.lx + 10} y={l.y1} color="#3a3a3a" w={1} />
          <T x={l.tx} y={l.y1} s={10}>Low expression</T>
          <LineSw x1={l.lx} x2={l.lx + 10} y={l.y2} color="#ff2b2b" w={1} />
          <T x={l.tx} y={l.y2} s={10}>High expression</T>
        </React.Fragment>
      ))}
    </div>
  );
}
